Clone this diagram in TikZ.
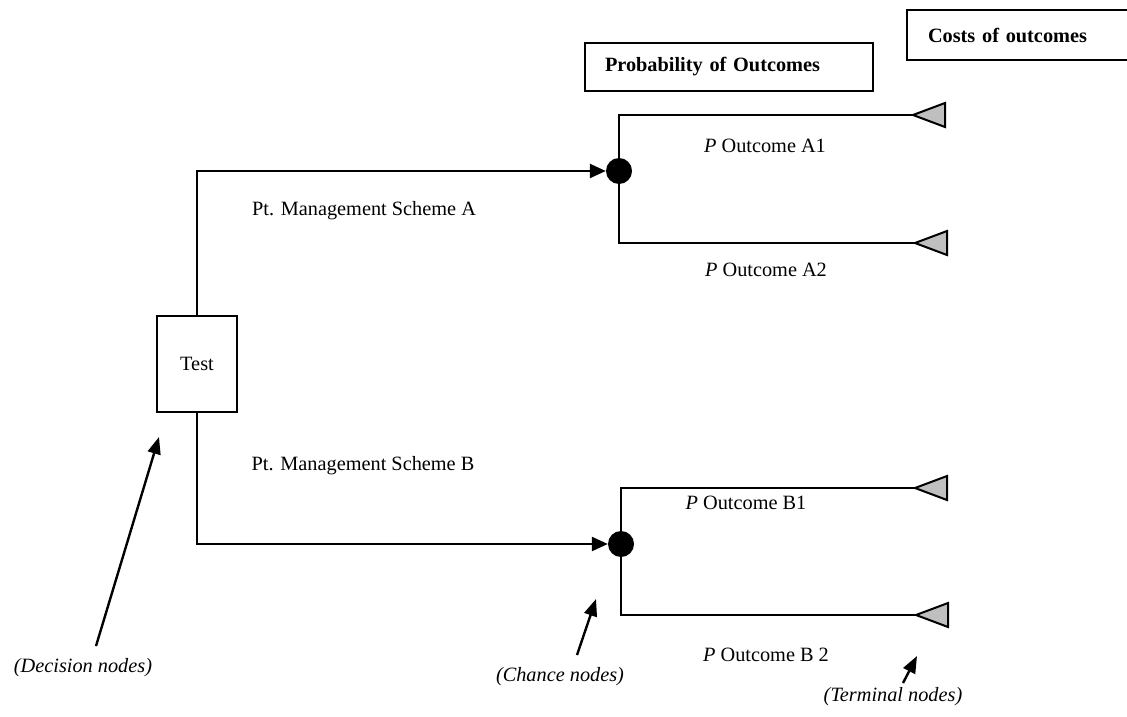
\documentclass[tikz,border=0pt]{standalone}
\usepackage{fontspec}
\setmainfont{Liberation Serif}
\usetikzlibrary{arrows.meta}
\begin{document}
\begin{tikzpicture}[x=1pt,y=-1pt,
  every node/.style={font=\fontsize{20.3}{24}\selectfont, inner sep=0pt},
  branch/.style={line width=2pt},
  mainarrow/.style={line width=2.4pt, -{Triangle[length=16pt,width=14pt]}},
  notearrow/.style={line width=2.4pt, -{Triangle[length=17pt,width=13pt]}},
  decisionbox/.style={draw, line width=2pt, minimum width=80pt, minimum height=96pt},
  chancenode/.style={circle, fill=black, minimum size=26pt},
  labelbox/.style={draw, line width=2pt, anchor=west, font=\fontsize{20.3}{24}\selectfont\bfseries},
  termtri/.style={draw, line width=2pt, fill=black!25, line join=miter},
  note/.style={font=\fontsize{20.3}{24}\selectfont\itshape}]
\useasboundingbox (0,0) rectangle (1127,717);

% header boxes
\node[labelbox, minimum width=288pt, minimum height=48pt, text width=248pt, align=left, inner xsep=20pt] (prob) at (584,67) {Probability of Outcomes};
\node[labelbox, minimum width=230pt, minimum height=50pt, text width=209pt, align=left, inner xsep=21pt] (cost) at (906,35) {Costs of outcomes};

% decision node
\node[decisionbox] (test) at (197,364) {Test};

% chance nodes
\node[chancenode] (cA) at (619,171) {};
\node[chancenode] (cB) at (621,544) {};

% terminal node tips
\coordinate (tA1) at (913,115);
\coordinate (tA2) at (915,243);
\coordinate (tB1) at (915,488);
\coordinate (tB2) at (916,615);

% decision branches
\draw[mainarrow] (test.north) |- (cA.west);
\draw[mainarrow] (test.south) |- (cB.west);

% chance branches
\draw[branch] (cA.center) |- (tA1);
\draw[branch] (cA.center) |- (tA2);
\draw[branch] (cB.center) |- (tB1);
\draw[branch] (cB.center) |- (tB2);

% terminal nodes
\foreach \t in {tA1,tA2,tB1,tB2}
  \draw[termtri] (\t) -- ++(32,-12) -- ++(0,24) -- cycle;

% branch labels
\node (schA) at (364,211) {Pt. Management Scheme A};
\node (schB) at (363,466) {Pt. Management Scheme B};
\node (oA1) at (765,146) {\textit{P} Outcome A1};
\node (oA2) at (766,270) {\textit{P} Outcome A2};
\node (oB1) at (746,503) {\textit{P} Outcome B1};
\node (oB2) at (766,655) {\textit{P} Outcome B 2};

% legend notes
\node[note] (ndec) at (83,668) {(Decision nodes)};
\node[note] (nchance) at (560,677) {(Chance nodes)};
\node[note] (nterm) at (893,697) {(Terminal nodes)};

\coordinate (dec0) at (96,646);
\coordinate (dec1) at (159,437);
\coordinate (ch0) at (577,655);
\coordinate (ch1) at (596,599);
\coordinate (te0) at (903,683);
\coordinate (te1) at (917,656);
\draw[notearrow] (dec0) -- (dec1);
\draw[notearrow] (ch0) -- (ch1);
\draw[notearrow] (te0) -- (te1);
\end{tikzpicture}
\end{document}
